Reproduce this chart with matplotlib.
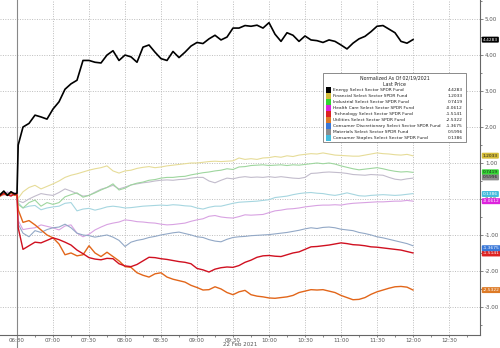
import matplotlib
matplotlib.use("Agg")
import matplotlib.pyplot as plt
import matplotlib.dates as mdates
import matplotlib.patches as mpatches
from matplotlib.ticker import MultipleLocator
import pandas as pd

DAY = "2021-02-22"
pre_times = ["06:16", "06:19", "06:22", "06:25", "06:28", "06:30", "06:31"]
session = pd.date_range(f"{DAY} 06:35", f"{DAY} 12:00", freq="5min")
times = pd.to_datetime([f"{DAY} {t}" for t in pre_times]).append(session)

names = [
    "Energy Select Sector SPDR Fund", "Financial Select Sector SPDR Fund",
    "Industrial Select Sector SPDR Fund", "Health Care Select Sector SPDR Fund",
    "Technology Select Sector SPDR Fund", "Utilities Select Sector SPDR Fund",
    "Consumer Discretionary Select Sector SPDR Fund", "Materials Select Sector SPDR Fund",
    "Consumer Staples Select Sector SPDR Fund",
]
last_price = [4.4283, 1.2033, 0.7419, -0.0612, -1.5141, -2.5322, -1.3675, 0.5996, 0.1386]

energy = [0.12, 0.22, 0.10, 0.20, 0.14, 0.16, 1.50,
          2.00, 2.10, 2.33, 2.28, 2.22, 2.50, 2.70, 3.05, 3.20, 3.30, 3.85,
          3.85, 3.80, 3.78, 4.00, 4.12, 3.85, 4.00, 3.95, 3.80, 4.22, 4.28,
          4.08, 3.90, 3.85, 4.10, 3.93, 4.08, 4.25, 4.35, 4.32, 4.45, 4.55,
          4.42, 4.50, 4.75, 4.75, 4.82, 4.80, 4.83, 4.75, 4.90, 4.58, 4.38,
          4.62, 4.55, 4.38, 4.53, 4.42, 4.40, 4.35, 4.42, 4.38, 4.28, 4.17,
          4.33, 4.45, 4.52, 4.65, 4.80, 4.82, 4.72, 4.62, 4.38, 4.33, 4.43]
financial = [0.15, 0.20, 0.12, 0.18, 0.10, 0.14, 0.02,
             0.20, 0.32, 0.38, 0.28, 0.35, 0.42, 0.50, 0.60, 0.66, 0.70, 0.75,
             0.80, 0.84, 0.87, 0.92, 0.78, 0.72, 0.78, 0.80, 0.85, 0.88, 0.90,
             0.87, 0.89, 0.92, 0.94, 0.96, 0.98, 1.00, 1.00, 1.02, 1.04, 1.05,
             1.04, 1.05, 1.06, 1.14, 1.10, 1.12, 1.10, 1.14, 1.15, 1.18, 1.16,
             1.20, 1.18, 1.22, 1.24, 1.26, 1.25, 1.28, 1.25, 1.22, 1.21, 1.20,
             1.19, 1.19, 1.22, 1.25, 1.28, 1.26, 1.25, 1.23, 1.22, 1.24, 1.20]
industrial = [0.10, 0.18, 0.14, 0.20, 0.12, 0.15, -0.15,
              -0.25, -0.10, -0.03, -0.20, -0.10, -0.15, -0.10, 0.06, 0.12, 0.17, 0.05,
              0.10, 0.17, 0.25, 0.32, 0.42, 0.25, 0.30, 0.39, 0.44, 0.47, 0.52,
              0.54, 0.58, 0.60, 0.60, 0.62, 0.63, 0.67, 0.70, 0.73, 0.75, 0.78,
              0.80, 0.84, 0.82, 0.89, 0.90, 0.93, 0.94, 0.95, 0.93, 0.94, 0.95,
              0.93, 0.95, 0.94, 0.96, 0.98, 1.00, 0.98, 1.00, 0.97, 0.92, 0.88,
              0.84, 0.81, 0.83, 0.85, 0.87, 0.84, 0.80, 0.77, 0.75, 0.76, 0.74]
health_care = [0.14, 0.10, 0.20, 0.12, 0.18, 0.10, -0.60,
               -0.85, -0.82, -0.80, -0.72, -0.76, -0.80, -0.86, -0.75, -0.72, -0.95, -1.05,
               -0.98, -0.86, -0.78, -0.71, -0.67, -0.64, -0.58, -0.60, -0.63, -0.64, -0.66,
               -0.67, -0.70, -0.72, -0.71, -0.69, -0.67, -0.62, -0.58, -0.55, -0.48, -0.46,
               -0.50, -0.52, -0.53, -0.49, -0.44, -0.45, -0.44, -0.43, -0.38, -0.33, -0.31,
               -0.28, -0.27, -0.25, -0.22, -0.20, -0.18, -0.17, -0.17, -0.16, -0.17, -0.14,
               -0.12, -0.11, -0.10, -0.09, -0.08, -0.08, -0.07, -0.06, -0.06, -0.04, -0.06]
technology = [0.10, 0.16, 0.12, 0.08, 0.15, 0.12, -0.80,
              -1.40, -1.30, -1.20, -1.22, -1.15, -1.08, -1.13, -1.20, -1.28, -1.42, -1.52,
              -1.63, -1.67, -1.69, -1.65, -1.66, -1.80, -1.86, -1.88, -1.82, -1.72, -1.62,
              -1.63, -1.66, -1.68, -1.71, -1.74, -1.76, -1.80, -1.93, -1.97, -2.03, -1.95,
              -1.91, -1.89, -1.90, -1.85, -1.76, -1.70, -1.62, -1.58, -1.57, -1.59, -1.60,
              -1.55, -1.50, -1.47, -1.40, -1.33, -1.32, -1.30, -1.28, -1.25, -1.22, -1.24,
              -1.27, -1.28, -1.30, -1.33, -1.34, -1.36, -1.38, -1.40, -1.42, -1.46, -1.50]
utilities = [0.08, 0.14, 0.10, 0.16, 0.10, 0.12, -0.30,
             -0.65, -0.60, -0.72, -0.86, -1.00, -1.08, -1.25, -1.55, -1.50, -1.58, -1.55,
             -1.30, -1.50, -1.60, -1.48, -1.60, -1.72, -1.88, -1.90, -2.05, -2.12, -2.17,
             -2.08, -2.05, -2.17, -2.23, -2.27, -2.31, -2.40, -2.46, -2.53, -2.52, -2.44,
             -2.50, -2.60, -2.66, -2.58, -2.54, -2.66, -2.70, -2.72, -2.75, -2.76, -2.74,
             -2.72, -2.68, -2.60, -2.56, -2.52, -2.53, -2.52, -2.56, -2.60, -2.68, -2.74,
             -2.80, -2.79, -2.74, -2.65, -2.58, -2.53, -2.48, -2.44, -2.43, -2.45, -2.53]
cons_disc = [0.12, 0.15, 0.10, 0.18, 0.12, 0.10, -0.70,
             -0.95, -1.05, -0.88, -0.93, -0.85, -0.80, -0.78, -0.70, -0.80, -0.95, -1.00,
             -1.02, -1.06, -1.03, -1.00, -1.06, -1.15, -1.32, -1.20, -1.15, -1.12, -1.07,
             -1.04, -1.00, -0.97, -0.94, -0.92, -0.96, -1.00, -1.05, -1.07, -1.13, -1.17,
             -1.19, -1.12, -1.07, -1.05, -1.04, -1.02, -1.01, -1.00, -0.99, -0.97, -0.95,
             -0.93, -0.90, -0.87, -0.83, -0.80, -0.82, -0.79, -0.78, -0.80, -0.84, -0.86,
             -0.88, -0.93, -0.96, -1.00, -1.05, -1.08, -1.12, -1.16, -1.20, -1.24, -1.30]
materials = [0.14, 0.12, 0.18, 0.10, 0.16, 0.12, -0.05,
             -0.10, 0.00, 0.08, 0.15, 0.12, 0.10, 0.18, 0.28, 0.22, 0.15, 0.08,
             0.10, 0.19, 0.27, 0.32, 0.38, 0.28, 0.33, 0.39, 0.42, 0.45, 0.47,
             0.50, 0.52, 0.53, 0.52, 0.54, 0.55, 0.58, 0.60, 0.60, 0.50, 0.45,
             0.52, 0.58, 0.56, 0.60, 0.62, 0.60, 0.61, 0.60, 0.62, 0.60, 0.62,
             0.60, 0.58, 0.57, 0.60, 0.71, 0.72, 0.74, 0.75, 0.74, 0.73, 0.71,
             0.68, 0.67, 0.66, 0.68, 0.67, 0.66, 0.60, 0.55, 0.53, 0.56, 0.58]
cons_staples = [0.10, 0.14, 0.16, 0.12, 0.10, 0.14, -0.10,
                -0.25, -0.20, -0.18, -0.30, -0.25, -0.22, -0.20, -0.12, -0.10, -0.33, -0.28,
                -0.26, -0.31, -0.27, -0.22, -0.20, -0.22, -0.25, -0.24, -0.22, -0.20, -0.19,
                -0.18, -0.17, -0.18, -0.16, -0.17, -0.19, -0.20, -0.25, -0.28, -0.23, -0.20,
                -0.20, -0.16, -0.12, -0.09, -0.08, -0.07, -0.06, -0.04, -0.02, 0.04, 0.06,
                0.08, 0.12, 0.15, 0.17, 0.18, 0.16, 0.15, 0.12, 0.10, 0.13, 0.17,
                0.13, 0.09, 0.08, 0.10, 0.11, 0.12, 0.11, 0.10, 0.11, 0.13, 0.15]

series = [energy, financial, industrial, health_care, technology,
          utilities, cons_disc, materials, cons_staples]
line_colors = ["#000000", "#e6dc98", "#9ed69e", "#d8a2e2", "#d01020",
               "#e2661a", "#92a8c6", "#c2bccc", "#a6d6e0"]
line_widths = [1.2, 0.8, 0.8, 0.8, 1.0, 1.0, 0.8, 0.8, 0.8]
key_colors = ["#000000", "#d4bc3a", "#33d633", "#dd22dd", "#dd2222",
              "#dd7a26", "#3a78d8", "#8c8c8c", "#44bcdc"]
box_text = ["white", "#222222", "#222222", "white", "white",
            "white", "white", "#222222", "white"]

fig = plt.figure(figsize=(5, 3.48), dpi=100, facecolor="white")
ax = fig.add_axes([0, 1 - 335 / 348, 480 / 500, 335 / 348])

# draw light lines first, energy on top
for i in [7, 8, 3, 6, 2, 1, 5, 4, 0]:
    ax.plot(times, series[i], color=line_colors[i], lw=line_widths[i], zorder=3 + (i in (0, 4, 5)))

ax.set_xlim(pd.Timestamp(f"{DAY} 06:15:50"), pd.Timestamp(f"{DAY} 12:55:50"))
ax.set_ylim(-3.78, 5.53)

ax.xaxis.set_major_locator(mdates.MinuteLocator(byminute=[0, 30]))
ax.xaxis.set_minor_locator(mdates.MinuteLocator(byminute=[15, 45]))
ax.xaxis.set_major_formatter(mdates.DateFormatter("%H:%M"))
ax.yaxis.tick_right()
ax.yaxis.set_major_locator(MultipleLocator(1.0))
ax.yaxis.set_minor_locator(MultipleLocator(0.5))
ax.yaxis.set_major_formatter(lambda v, p: f"{v:.2f}")
ax.tick_params(axis="both", which="both", labelsize=4, colors="#555555",
               length=2, width=0.5, pad=1.5)
ax.tick_params(axis="x", which="both", pad=0.5, length=1.5)
ax.tick_params(axis="both", which="minor", length=1.2)
ax.tick_params(axis="y", which="both", direction="out")
ax.grid(True, which="major", color="#bdbdbd", ls=(0, (1, 1.5)), lw=0.7)
for s in ["left", "top"]:
    ax.spines[s].set_visible(False)
for s in ["right", "bottom"]:
    ax.spines[s].set_color("#666666")
    ax.spines[s].set_linewidth(0.8)
ax.set_xlabel("22 Feb 2021", fontsize=4, color="#555555", labelpad=-0.5)

# day break line
ax.axvline(pd.Timestamp(f"{DAY} 06:30"), ymin=-0.04, ymax=1, color="#888888",
           lw=0.8, clip_on=False, zorder=2)

# last value tags on the right axis
for i, v in enumerate(last_price):
    ax.annotate(f"{v:.4f}", xy=(1.0, v), xycoords=("axes fraction", "data"),
                xytext=(2, 0), textcoords="offset points", ha="left", va="center",
                fontsize=3.2, color=box_text[i], annotation_clip=False, zorder=10,
                bbox=dict(boxstyle="round,pad=0.22", fc=key_colors[i], ec="none"))

# legend box
ax.add_patch(mpatches.Rectangle((0.673, 0.576), 0.298, 0.206, transform=ax.transAxes,
                                fc="white", ec="#777777", lw=0.6, zorder=8))
ax.text(0.822, 0.767, "Normalized As Of 02/19/2021", transform=ax.transAxes,
        ha="center", va="center", fontsize=3.4, color="#222222", zorder=9)
ax.text(0.822, 0.749, "Last Price", transform=ax.transAxes,
        ha="center", va="center", fontsize=3.4, color="#222222", zorder=9)
for i, name in enumerate(names):
    y = 1 - (90 + 6 * i) / 335
    ax.add_patch(mpatches.Rectangle((0.679, y - 0.0075), 0.011, 0.015, transform=ax.transAxes,
                                    fc=key_colors[i], ec="none", zorder=9))
    ax.text(0.693, y, name, transform=ax.transAxes, ha="left", va="center",
            fontsize=3.15, color="#222222", zorder=9)
    ax.text(0.964, y, f"{last_price[i]:.4f}", transform=ax.transAxes, ha="right",
            va="center", fontsize=3.15, color="#222222", zorder=9)

fig.savefig("out.png", dpi=100, facecolor="white")
